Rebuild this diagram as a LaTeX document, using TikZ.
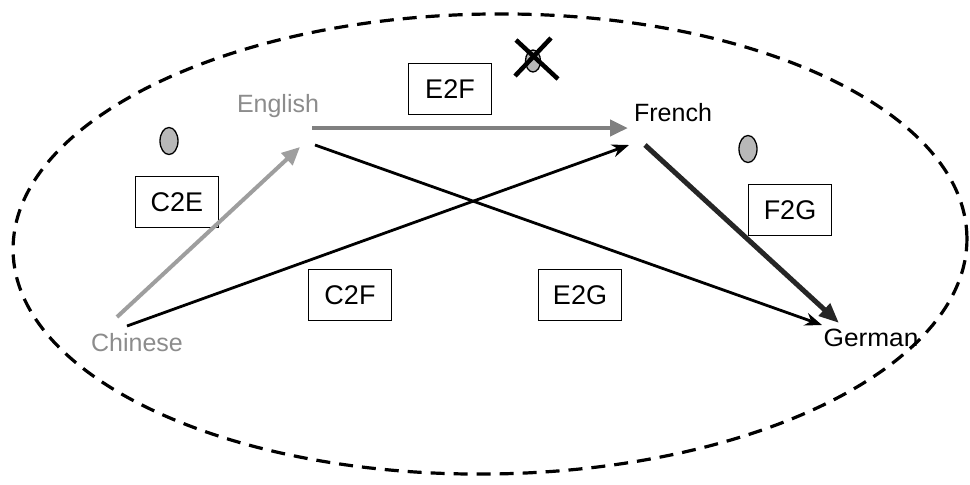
\documentclass[tikz,border=0pt]{standalone}
\usepackage{fontspec}
\setmainfont{Liberation Sans}
\usetikzlibrary{arrows.meta,shapes.geometric}
\definecolor{fadedtext}{gray}{0.55}
\definecolor{pivotlight}{gray}{0.62}
\definecolor{pivotdark}{gray}{0.50}
\definecolor{markerfill}{gray}{0.72}
\begin{document}
\begin{tikzpicture}[x=1pt,y=-1pt,
  lang/.style={inner sep=0pt, font=\fontsize{25}{30}\selectfont},
  rulebox/.style={draw, line width=1.8pt, minimum width=83pt, minimum height=51pt,
    inner sep=0pt, font=\fontsize{27}{32}\selectfont},
  marker/.style={ellipse, draw, line width=1.3pt, fill=markerfill,
    minimum width=18pt, minimum height=27pt, inner sep=0pt},
  link/.style={line width=2.8pt, -{Stealth[length=17pt,width=13pt]}},
  pivot/.style={line width=4.5pt, -{Triangle[length=18pt,width=16pt]}},
]
\useasboundingbox (0,0) rectangle (970,485);

% outer dashed boundary
\draw[line width=3.2pt, dash pattern=on 14pt off 9pt, rotate around={0.8:(490,244)}]
  (490,244) ellipse [x radius=477, y radius=230];

% languages
\node[lang, text=fadedtext] (english) at (278,106) {English};
\node[lang]                 (french)  at (673,113) {French};
\node[lang, text=fadedtext] (chinese) at (137,343) {Chinese};
\node[lang, xscale=1.05]    (german)  at (871,338) {German};

% translation systems
\node[rulebox] (c2e) at (177,202) {C2E};
\node[rulebox] (e2f) at (450,89)  {E2F};
\node[rulebox] (f2g) at (790,210) {F2G};
\node[rulebox] (c2f) at (350,295) {C2F};
\node[rulebox] (e2g) at (580,295) {E2G};

% status markers
\node[marker] (m-c2e) at (169,141) {};
\node[marker] (m-f2g) at (748,149) {};
\node[marker, minimum width=15pt, minimum height=22pt] (m-e2f) at (533,61) {};
\coordinate (x-a1) at (516,40);
\coordinate (x-a2) at (558,79);
\coordinate (x-b1) at (551,38);
\coordinate (x-b2) at (515,76);
\draw[line width=4.5pt] (x-a1) -- (x-a2);
\draw[line width=4.5pt] (x-b1) -- (x-b2);

% edge ports
\coordinate (chinese-p1) at (117,317);
\coordinate (chinese-p2) at (127,326);
\coordinate (english-in) at (300,147);
\coordinate (english-p1) at (312,128);
\coordinate (english-p2) at (315,145);
\coordinate (french-in1) at (628,128);
\coordinate (french-in2) at (629,145);
\coordinate (french-out) at (645,145);
\coordinate (german-in1) at (822,325);
\coordinate (german-in2) at (839,323);

% connectors
\draw[pivot, draw=pivotlight, fill=pivotlight, line width=4pt] (chinese-p1) -- (english-in);
\draw[pivot, draw=pivotdark, fill=pivotdark] (english-p1) -- (french-in1);
\draw[link] (chinese-p2) -- (french-in2);
\draw[link] (english-p2) -- (german-in1);
\draw[link, line width=5pt, draw=black!85, -{Triangle[length=20pt,width=16pt]}] (french-out) -- (german-in2);
\end{tikzpicture}
\end{document}
